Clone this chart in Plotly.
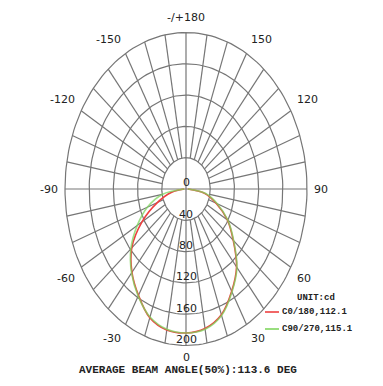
import numpy as np
import plotly.graph_objects as go

# ---- data ----
angles = list(range(-90, 91, 10))  # gamma angle, deg (0 = down)
c0_180 = [3, 24, 50, 84, 117, 139, 157, 175, 183, 184, 181, 171, 151, 130, 102, 79, 53, 31, 3]
c90_270 = [3, 40, 68, 93, 119, 140, 158, 174, 182, 184, 182, 172, 152, 131, 103, 80, 55, 33, 3]
series_names = ["C0/180,112.1", "C90/270,115.1"]
ring_values = [40, 80, 120, 160, 200]
angle_ticks = [0, 30, 60, 90, 120, 150, 180, -150, -120, -90, -60, -30]
angle_tick_text = ["0", "30", "60", "90", "120", "150", "-/+180", "-150", "-120", "-90", "-60", "-30"]
unit_text = "UNIT:cd"
footer = "AVERAGE BEAM ANGLE(50%):113.6 DEG"

RMAX = 200
GRID = "#767676"
RED = "#ee4040"
GREEN = "#7fd65f"
TXT = "#222222"


def to_xy(r, a_deg):
    a = np.radians(np.asarray(a_deg, dtype=float))
    r = np.asarray(r, dtype=float)
    return r * np.sin(a), -r * np.cos(a)


fig = go.Figure()

# grid circles
gx, gy = [], []
th = np.arange(0, 361, 2)
for rv in ring_values:
    x, y = to_xy(np.full(th.shape, rv), th)
    gx += list(x) + [None]
    gy += list(y) + [None]
# spokes every 10 deg from the first ring outward
for a in range(0, 360, 10):
    if a % 90 == 0:
        continue
    x, y = to_xy([ring_values[0], RMAX], [a, a])
    gx += list(x) + [None]
    gy += list(y) + [None]
# full axis lines
for a in (0, 90):
    x, y = to_xy([RMAX, RMAX], [a, a + 180])
    gx += list(x) + [None]
    gy += list(y) + [None]

fig.add_trace(go.Scatter(x=gx, y=gy, mode="lines",
                         line=dict(color=GRID, width=1.2),
                         hoverinfo="skip", showlegend=False))

for vals, col, name, op in ((c0_180, RED, series_names[0], 1.0),
                            (c90_270, GREEN, series_names[1], 0.75)):
    x, y = to_xy(vals, angles)
    fig.add_trace(go.Scatter(x=x, y=y, mode="lines", name=name, opacity=op,
                             line=dict(color=col, width=1.6, shape="spline", smoothing=1.0),
                             showlegend=False))

ann = []
# angle labels
LR = 208
for a, t in zip(angle_ticks, angle_tick_text):
    r_lab = LR - 4 if a == 0 else LR
    x, y = to_xy(r_lab, a)
    s = np.sin(np.radians(a))
    c = -np.cos(np.radians(a))
    xa = "left" if s > 0.1 else ("right" if s < -0.1 else "center")
    ya = "bottom" if c > 0.1 else ("top" if c < -0.1 else "middle")
    ann.append(dict(x=float(x), y=float(y), text=t, showarrow=False,
                    xanchor=xa, yanchor=ya,
                    font=dict(family="DejaVu Sans", size=11, color=TXT)))
# radial labels
for rv in ring_values:
    x, y = to_xy(rv, 0)
    ann.append(dict(x=float(x), y=float(y), text=str(rv), showarrow=False,
                    xanchor="center", yanchor="middle", yshift=6,
                    font=dict(family="DejaVu Sans", size=11, color=TXT)))
# center "0"
ann.append(dict(x=0, y=0, text="0", showarrow=False, xanchor="center",
                yanchor="middle", yshift=7,
                font=dict(family="DejaVu Sans", size=11, color=TXT)))

W, H = 383, 386
mono = "Liberation Mono"
ann.append(dict(xref="paper", yref="paper", x=316 / W, y=1 - 298 / H, text="<b>" + unit_text + "</b>",
                showarrow=False, xanchor="center", yanchor="middle",
                font=dict(family=mono, size=9, color=TXT)))
for i, (name, col) in enumerate(zip(series_names, (RED, GREEN))):
    yy = 312 + i * 17
    ann.append(dict(xref="paper", yref="paper", x=280 / W, y=1 - yy / H, text="<b>" + name + "</b>",
                    showarrow=False, xanchor="left", yanchor="middle",
                    font=dict(family=mono, size=9, color=TXT)))
ann.append(dict(xref="paper", yref="paper", x=188 / W, y=1 - 369.5 / H, text="<b>" + footer + "</b>",
                showarrow=False, xanchor="center", yanchor="middle",
                font=dict(family=mono, size=11, color=TXT)))

shapes = []
for i, col in enumerate((RED, GREEN)):
    yy = 312 + i * 17
    shapes.append(dict(type="line", xref="paper", yref="paper",
                       x0=265 / W, x1=279 / W, y0=1 - yy / H, y1=1 - yy / H,
                       line=dict(color=col, width=1.6)))

cx, cy = 186, 189
sx, sy = 121 / RMAX, 156.5 / RMAX
fig.update_layout(
    width=W, height=H, margin=dict(l=0, r=0, t=0, b=0),
    paper_bgcolor="white", plot_bgcolor="white",
    xaxis=dict(range=[-cx / sx, (W - cx) / sx], visible=False, fixedrange=True),
    yaxis=dict(range=[-(H - cy) / sy, cy / sy], visible=False, fixedrange=True),
    annotations=ann, shapes=shapes, showlegend=False,
)

fig.write_html("out.html")
